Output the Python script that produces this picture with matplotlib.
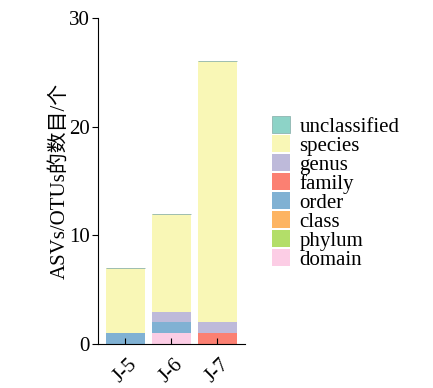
import matplotlib.pyplot as plt
import numpy as np

plt.rcParams['font.family'] = ['Liberation Serif', 'Noto Sans CJK SC']

# Data
samples = ["J-5", "J-6", "J-7"]
domain = [0, 1, 0]
phylum = [0, 0, 0]
class_ = [0, 0, 0]
order = [1, 1, 0]
family = [0, 0, 1]
genus = [0, 1, 1]
species = [6, 9, 24]
unclassified = [0, 0, 0]

layers = [
    ("domain", domain, "#fccde5"),
    ("phylum", phylum, "#b3de69"),
    ("class", class_, "#fdb462"),
    ("order", order, "#80b1d3"),
    ("family", family, "#fb8072"),
    ("genus", genus, "#bebada"),
    ("species", species, "#f9f7b6"),
    ("unclassified", unclassified, "#8dd3c7"),
]

fig = plt.figure(figsize=(4.33, 3.88), dpi=100)
ax = fig.add_axes([0.226, 0.113, 0.34, 0.841])

x = np.arange(len(samples))
bottom = np.zeros(len(samples))
handles = []
for name, vals, color in layers:
    vals = np.array(vals, dtype=float)
    if name == "unclassified":
        # thin teal line on top of every bar
        b = ax.bar(x, vals, 0.83, bottom=bottom, color=color,
                   edgecolor="#8fb5b0", linewidth=0.6, label=name)
    else:
        b = ax.bar(x, vals, 0.83, bottom=bottom, color=color,
                   linewidth=0, label=name)
    handles.append(b)
    bottom += vals

ax.set_xlim(-0.6, 2.6)
ax.set_ylim(0, 30)
ax.set_yticks([0, 10, 20, 30])
ax.set_xticks(x)
ax.set_xticklabels(samples, rotation=45, ha="center")
ax.tick_params(axis="y", direction="out", labelsize=15, length=4, pad=2)
ax.tick_params(axis="x", direction="in", labelsize=15, length=4, pad=8)
ax.set_ylabel("ASVs/OTUs的数目/个", fontsize=15, labelpad=-1)

ax.spines["top"].set_visible(False)
ax.spines["right"].set_visible(False)

leg = fig.legend(handles[::-1], [l[0] for l in layers][::-1],
                 loc="center left", bbox_to_anchor=(0.628, 0.503),
                 frameon=False, fontsize=15, handlelength=0.87, handleheight=0.87,
                 labelspacing=-0.08, handletextpad=0.45, borderpad=0, borderaxespad=0)

fig.savefig("out.png", dpi=100)
